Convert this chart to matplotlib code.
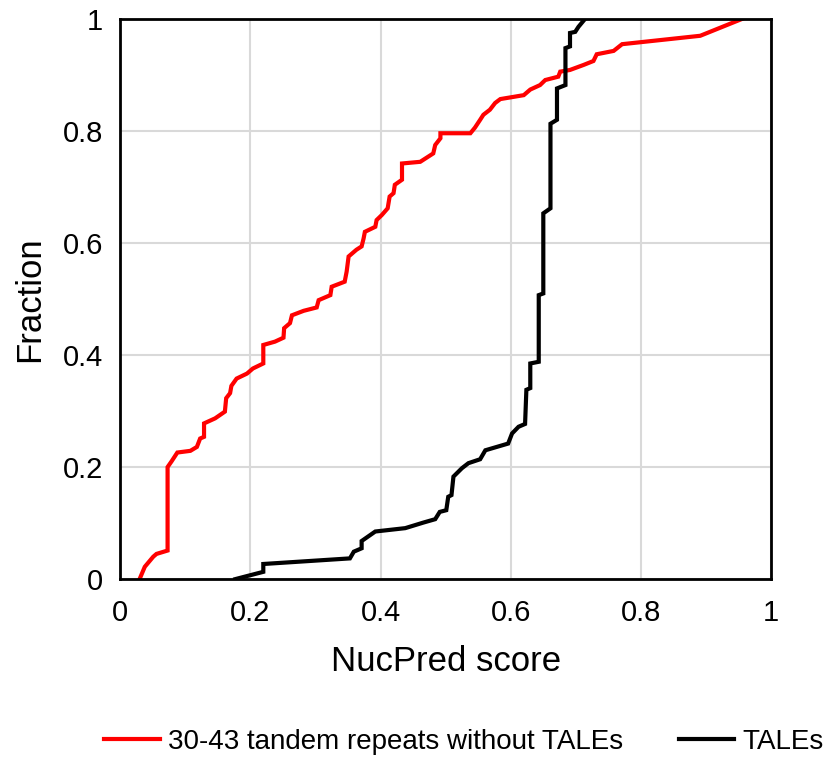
import matplotlib
matplotlib.use("Agg")
import matplotlib.pyplot as plt

plt.rcParams['font.family'] = ['Liberation Sans', 'Arial', 'DejaVu Sans']

# 30-43 tandem repeats without TALEs
red_x = [0.030, 0.038, 0.051, 0.056, 0.073, 0.073, 0.079, 0.088, 0.108, 0.118, 0.123, 0.129,
         0.129, 0.146, 0.161, 0.163, 0.169, 0.171, 0.179, 0.195, 0.204, 0.220, 0.220, 0.238,
         0.251, 0.252, 0.261, 0.264, 0.282, 0.302, 0.305, 0.323, 0.325, 0.345, 0.348, 0.351,
         0.363, 0.371, 0.374, 0.376, 0.392, 0.394, 0.402, 0.411, 0.414, 0.420, 0.422, 0.433,
         0.433, 0.461, 0.469, 0.481, 0.484, 0.492, 0.492, 0.538, 0.545, 0.553, 0.558, 0.568,
         0.576, 0.584, 0.620, 0.630, 0.645, 0.653, 0.673, 0.676, 0.691, 0.712, 0.727, 0.732,
         0.758, 0.771, 0.891, 0.955]
red_y = [0.000, 0.022, 0.040, 0.045, 0.051, 0.200, 0.210, 0.226, 0.229, 0.236, 0.251, 0.254,
         0.278, 0.287, 0.299, 0.323, 0.332, 0.345, 0.358, 0.367, 0.376, 0.385, 0.418, 0.424,
         0.431, 0.448, 0.457, 0.471, 0.479, 0.485, 0.498, 0.507, 0.522, 0.531, 0.549, 0.576,
         0.588, 0.594, 0.608, 0.620, 0.629, 0.641, 0.650, 0.662, 0.683, 0.689, 0.704, 0.713,
         0.742, 0.745, 0.751, 0.760, 0.775, 0.787, 0.796, 0.796, 0.806, 0.820, 0.829, 0.838,
         0.850, 0.857, 0.864, 0.874, 0.882, 0.891, 0.897, 0.906, 0.909, 0.918, 0.925, 0.937,
         0.943, 0.955, 0.970, 1.000]

# TALEs
tale_x = [0.177, 0.220, 0.220, 0.353, 0.359, 0.371, 0.371, 0.392, 0.438, 0.466, 0.484, 0.491,
          0.501, 0.504, 0.509, 0.512, 0.525, 0.535, 0.553, 0.561, 0.596, 0.602, 0.612, 0.622,
          0.624, 0.630, 0.630, 0.643, 0.643, 0.650, 0.650, 0.661, 0.661, 0.671, 0.671, 0.684,
          0.684, 0.691, 0.691, 0.699, 0.704, 0.714]
tale_y = [0.000, 0.013, 0.027, 0.037, 0.049, 0.055, 0.068, 0.085, 0.091, 0.101, 0.107, 0.120,
          0.123, 0.147, 0.150, 0.183, 0.198, 0.207, 0.214, 0.230, 0.242, 0.260, 0.272, 0.277,
          0.338, 0.341, 0.385, 0.388, 0.507, 0.510, 0.653, 0.662, 0.813, 0.820, 0.876, 0.882,
          0.948, 0.951, 0.975, 0.977, 0.986, 1.000]

xticks = [0, 0.2, 0.4, 0.6, 0.8, 1]
xticklabels = ['0', '0.2', '0.4', '0.6', '0.8', '1']
yticks = [0, 0.2, 0.4, 0.6, 0.8, 1]
yticklabels = ['0', '0.2', '0.4', '0.6', '0.8', '1']

fig = plt.figure(figsize=(8.29, 7.59), dpi=100)
ax = fig.add_axes([0.1448, 0.237, 0.7855, 0.738])

ax.plot(red_x, red_y, color='#ff0000', lw=3.0, solid_joinstyle='miter',
        label='30-43 tandem repeats without TALEs')
ax.plot(tale_x, tale_y, color='black', lw=3.0, solid_joinstyle='miter', label='TALEs')

ax.set_xlim(0, 1)
ax.set_ylim(0, 1)
ax.set_xticks(xticks)
ax.set_xticklabels(xticklabels)
ax.set_yticks(yticks)
ax.set_yticklabels(yticklabels)
ax.tick_params(length=0, labelsize=21)
ax.tick_params(axis='x', pad=14)
ax.tick_params(axis='y', pad=12)
ax.grid(True, color='#d9d9d9', lw=1.5)
ax.set_axisbelow(True)
for s in ax.spines.values():
    s.set_linewidth(2)
    s.set_color('black')

ax.set_xlabel('NucPred score', fontsize=25, labelpad=13)
ax.set_ylabel('Fraction', fontsize=25, labelpad=12)

fig.legend(loc='center left', bbox_to_anchor=(104 / 829, 1 - 742 / 759), ncol=2, frameon=False,
           fontsize=20, handlelength=2.0, handletextpad=0.3, columnspacing=2.0,
           borderpad=0, borderaxespad=0)

fig.savefig('out.png', dpi=100)
